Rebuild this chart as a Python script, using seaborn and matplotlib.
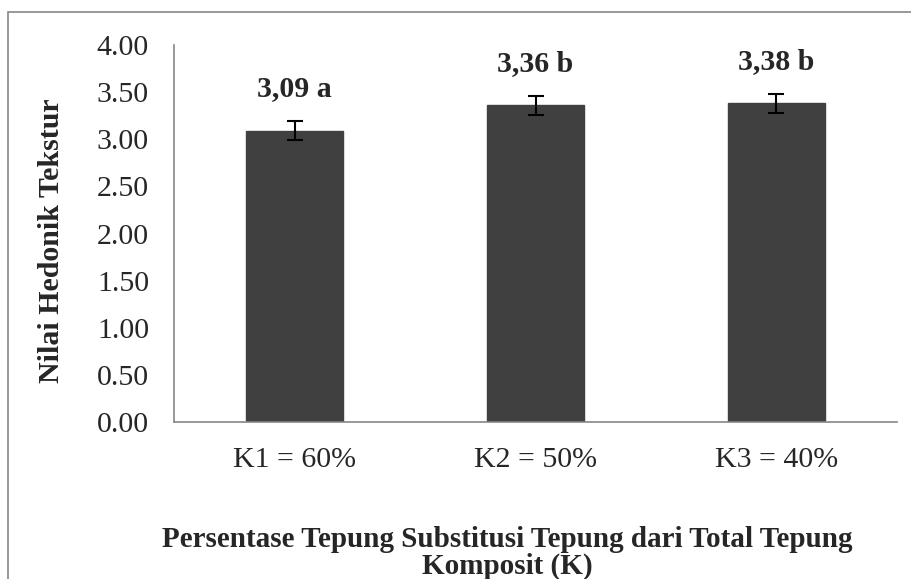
import numpy as np
import pandas as pd
import matplotlib.pyplot as plt
import seaborn as sns
from matplotlib.patches import Rectangle

categories = ["K1 = 60%", "K2 = 50%", "K3 = 40%"]
values = [3.09, 3.36, 3.38]
errors = [0.10, 0.10, 0.10]
labels = ["3,09 a", "3,36 b", "3,38 b"]
yticks = [0.0, 0.5, 1.0, 1.5, 2.0, 2.5, 3.0, 3.5, 4.0]

sns.set_style("white")
plt.rcParams['font.family'] = ['Liberation Serif', 'DejaVu Serif']

df = pd.DataFrame({"k": categories, "nilai": values})

fig = plt.figure(figsize=(9.12, 5.79), dpi=100)
ax = fig.add_axes([174/912, 1 - 422/579, (897 - 174)/912, (422 - 45)/579])

sns.barplot(data=df, x="k", y="nilai", color="#404040", saturation=1, width=0.4, errorbar=None, ax=ax)
for p in ax.patches:
    p.set_edgecolor("#404040")
ax.errorbar(np.arange(len(values)), values, yerr=errors, fmt="none", ecolor="black", elinewidth=1.5, capsize=6, capthick=1.5)

for i, (v, e, t) in enumerate(zip(values, errors, labels)):
    ax.text(i, v + e + 0.2, t, ha="center", va="bottom", fontsize=21.5, fontweight="bold")

ax.set_xlim(-0.5, 2.5)
ax.set_ylim(0, 4.0)
ax.set_yticks(yticks)
ax.set_yticklabels([f"{t:.2f}" for t in yticks], fontsize=21.5)
ax.set_xticks([-0.5, 0.5, 1.5, 2.5], minor=False)
ax.set_xticklabels([])
ax.set_xticks([0, 1, 2], minor=True)
ax.set_xticklabels(categories, minor=True, fontsize=21.5)
ax.tick_params(axis="x", which="minor", length=0, pad=18)
ax.tick_params(axis="x", which="major", length=6, color="#868686", direction="out")
ax.tick_params(axis="y", length=6, color="#868686", direction="out", pad=12)
ax.set_xlabel("")
ax.set_ylabel("Nilai Hedonik Tekstur", fontsize=21.5, fontweight="bold")
ax.yaxis.set_label_coords(-0.17 + 14/723, 0.48)

for s in ["top", "right"]:
    ax.spines[s].set_visible(False)
for s in ["left", "bottom"]:
    ax.spines[s].set_color("#868686")
    ax.spines[s].set_linewidth(1.2)

fig.text(507/912, 1 - 553/579, "Persentase Tepung Substitusi Tepung dari Total Tepung\nKomposit (K)",
         ha="center", va="center", fontsize=21, fontweight="bold", linespacing=0.95)

fig.patches.append(Rectangle((8/912, -0.1), 1.2, 1 - 12/579 + 0.1, transform=fig.transFigure,
                             fill=False, edgecolor="#868686", linewidth=1.2))

fig.savefig("out.png", dpi=100)
